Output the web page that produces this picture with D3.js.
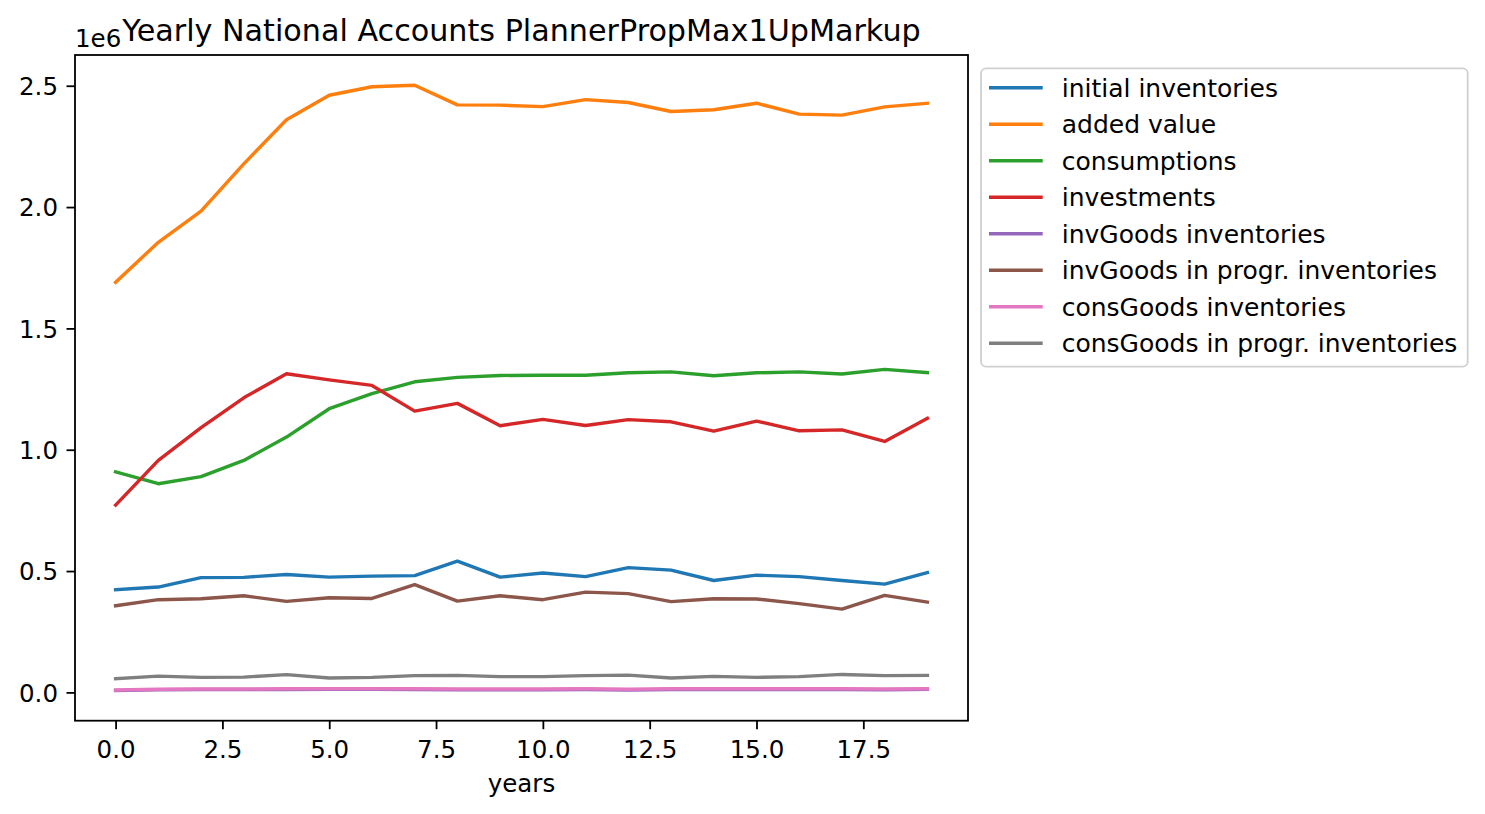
<!DOCTYPE html>
<html>
<head>
<meta charset="utf-8">
<script src="https://cdn.jsdelivr.net/npm/d3@7"></script>
<style>
  body { margin: 0; background: #fff; }
  text { font-family: "DejaVu Sans", sans-serif; fill: #000; }
</style>
</head>
<body>
<div id="chart"></div>
<script>

// years 0..19
const years = d3.range(0, 20);

const initialInventories = [423000, 434000, 473000, 474000, 486000, 475000, 479000, 481000, 541000, 475000,
                            492000, 477000, 514000, 504000, 461000, 483000, 477000, 461000, 446000, 494000];
const addedValue = [1690000, 1855000, 1983000, 2178000, 2360000, 2461000, 2496000, 2502000, 2421000, 2420000,
                    2414000, 2443000, 2431000, 2394000, 2401000, 2428000, 2383000, 2379000, 2413000, 2428000];
const consumptions = [909000, 860000, 889000, 956000, 1052000, 1169000, 1231000, 1280000, 1298000, 1306000,
                      1307000, 1307000, 1317000, 1321000, 1305000, 1317000, 1321000, 1312000, 1331000, 1318000];
const investments = [772000, 956000, 1091000, 1214000, 1313000, 1288000, 1265000, 1159000, 1191000, 1099000,
                     1125000, 1100000, 1124000, 1115000, 1077000, 1118000, 1078000, 1082000, 1034000, 1129000];
const invGoodsInventories = [8000, 11000, 12000, 12000, 12000, 13000, 13000, 12000, 11000, 11000,
                             11000, 12000, 10000, 12000, 12000, 12000, 12000, 12000, 11000, 13000];
const invGoodsInProgr = [357000, 382000, 386000, 398000, 375000, 390000, 387000, 444000, 376000, 398000,
                         382000, 413000, 407000, 374000, 386000, 385000, 366000, 343000, 400000, 372000];
const consGoodsInventories = [10000, 13000, 14000, 14000, 15000, 15000, 15000, 15000, 14000, 14000,
                              14000, 15000, 13000, 15000, 15000, 15000, 15000, 15000, 14000, 15000];
const consGoodsInProgr = [56000, 67000, 62000, 63000, 73000, 59000, 62000, 69000, 70000, 65000,
                          65000, 69000, 71000, 59000, 66000, 62000, 65000, 74000, 69000, 70000];

const seriesNames = ["initial inventories", "added value", "consumptions", "investments",
                     "invGoods inventories", "invGoods in progr. inventories",
                     "consGoods inventories", "consGoods in progr. inventories"];
const seriesValues = [initialInventories, addedValue, consumptions, investments,
                      invGoodsInventories, invGoodsInProgr, consGoodsInventories, consGoodsInProgr];
const colors = ["#1f77b4", "#ff7f0e", "#2ca02c", "#d62728", "#9467bd", "#8c564b", "#e377c2", "#7f7f7f"];

const xTicks = [0, 2.5, 5, 7.5, 10, 12.5, 15, 17.5];
const yTicks = [0, 500000, 1000000, 1500000, 2000000, 2500000];

const W = 1485, H = 814;
const margin = {top: 55, right: 517, bottom: 93.3, left: 75};
const width = W - margin.left - margin.right;
const height = H - margin.top - margin.bottom;
const fs = 24.5;
const legendFs = 25;

const svg = d3.select("#chart").append("svg")
    .attr("width", W)
    .attr("height", H);

const g = svg.append("g")
    .attr("transform", "translate(" + margin.left + "," + margin.top + ")");

// scales with matplotlib-like 5% margins
let allVals = seriesValues.flat();
let yMin = d3.min(allVals), yMax = d3.max(allVals);
let yPad = (yMax - yMin) * 0.05;
let xPad = (d3.max(years) - d3.min(years)) * 0.05;

const x = d3.scaleLinear()
    .domain([d3.min(years) - xPad, d3.max(years) + xPad])
    .range([0, width]);

const y = d3.scaleLinear()
    .domain([yMin - yPad, yMax + yPad])
    .range([height, 0]);

// lines
const line = d3.line()
    .x((d, i) => x(years[i]))
    .y(d => y(d));

g.selectAll(".series")
    .data(seriesValues)
    .enter().append("path")
    .attr("class", "series")
    .attr("fill", "none")
    .attr("stroke", (d, i) => colors[i])
    .attr("stroke-width", 3.4)
    .attr("stroke-linejoin", "round")
    .attr("stroke-linecap", "square")
    .attr("d", line);

// axes
const xAxis = d3.axisBottom(x)
    .tickValues(xTicks)
    .tickSize(8.5)
    .tickFormat(d3.format(".1f"));

const yAxis = d3.axisLeft(y)
    .tickValues(yTicks)
    .tickSize(8.5)
    .tickPadding(8.5)
    .tickFormat(d => d3.format(".1f")(d / 1e6));

const xAxisGroup = g.append("g")
    .attr("transform", `translate(0, ${height})`)
    .call(xAxis);
xAxisGroup.select(".domain").remove();
xAxisGroup.selectAll("line").attr("stroke", "#000").attr("stroke-width", 1.8);
xAxisGroup.selectAll("text")
    .attr("y", 37.3).attr("dy", null)
    .style("font-size", fs + "px")
    .style("font-family", "DejaVu Sans");

const yAxisGroup = g.append("g")
    .call(yAxis);
yAxisGroup.select(".domain").remove();
yAxisGroup.selectAll("line").attr("stroke", "#000").attr("stroke-width", 1.8);
yAxisGroup.selectAll("text")
    .attr("dy", "0.36em")
    .style("font-size", fs + "px")
    .style("font-family", "DejaVu Sans");

// spines
g.append("rect")
    .attr("width", width)
    .attr("height", height)
    .attr("fill", "none")
    .attr("stroke", "#000")
    .attr("stroke-width", 1.8);

// title, offset text, x label
svg.append("text")
    .attr("x", margin.left + width / 2)
    .attr("y", 41)
    .attr("text-anchor", "middle")
    .style("font-size", "30.2px")
    .text("Yearly National Accounts PlannerPropMax1UpMarkup");

svg.append("text")
    .attr("x", margin.left)
    .attr("y", 47)
    .style("font-size", fs + "px")
    .text("1e6");

svg.append("text")
    .attr("x", margin.left + width / 2)
    .attr("y", 792)
    .attr("text-anchor", "middle")
    .style("font-size", fs + "px")
    .text("years");

// legend
const legend = svg.append("g")
    .attr("transform", "translate(981, 68.3)");

legend.append("rect")
    .attr("width", 486.7)
    .attr("height", 298.4)
    .attr("rx", 5)
    .attr("fill", "#fff")
    .attr("fill-opacity", 0.8)
    .attr("stroke", "#d0d0d0")
    .attr("stroke-width", 1.8);

const rows = legend.selectAll(".legend-row")
    .data(seriesNames)
    .enter().append("g")
    .attr("class", "legend-row")
    .attr("transform", (d, i) => `translate(0, ${19.4 + i * 36.5})`);

rows.append("line")
    .attr("x1", 8)
    .attr("x2", 61.7)
    .attr("stroke", (d, i) => colors[i])
    .attr("stroke-width", 3.4);

rows.append("text")
    .attr("x", 80.7)
    .attr("dy", "0.36em")
    .style("font-size", legendFs + "px")
    .text(d => d);

</script>
</body>
</html>
